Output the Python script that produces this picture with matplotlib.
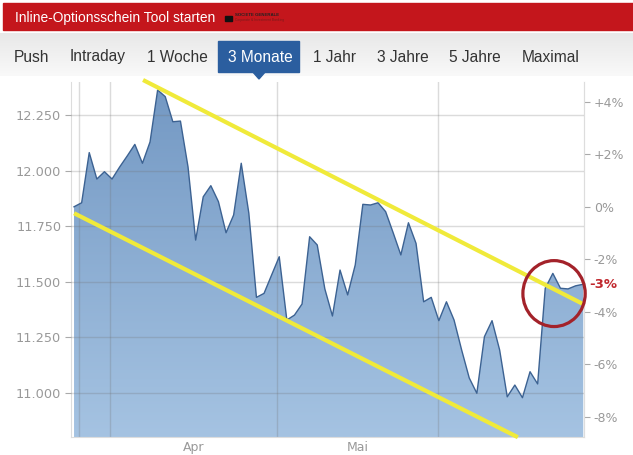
import numpy as np
import matplotlib.pyplot as plt
from matplotlib.patches import Rectangle, Polygon, Ellipse
from matplotlib.colors import LinearSegmentedColormap

# ------data------
dax = [11838, 11856, 12082, 11963, 11996, 11963, 12017, 12067, 12119, 12034,
       12130, 12364, 12334, 12221, 12224, 12017, 11688, 11883, 11933, 11861,
       11721, 11801, 12034, 11809, 11430, 11448, 11531, 11613, 11328, 11350,
       11400, 11703, 11666, 11468, 11346, 11553, 11441, 11576, 11849, 11846,
       11856, 11816, 11720, 11621, 11766, 11673, 11410, 11430, 11325, 11410,
       11328, 11193, 11067, 10998, 11253, 11325, 11193, 10982, 11035, 10978,
       11095, 11040, 11471, 11538, 11471, 11468, 11482, 11489]
tabs = ["Push", "Intraday", "1 Woche", "3 Monate", "1 Jahr", "3 Jahre", "5 Jahre", "Maximal"]
active_tab = "3 Monate"
left_ticks = [11000, 11250, 11500, 11750, 12000, 12250]
pct_ticks = [4, 2, 0, -2, -4, -6, -8]
month_labels = ["Apr", "Mai"]
grid_x = [0.66, 4.74, 26.7, 47.9]          # week/month boundaries (index units)
upper_trend = ([9.08, 66.97], [12409, 11400])
lower_trend = ([0, 58.4], [11809, 10800])
header_text = "Inline-Optionsschein Tool starten"

W, H = 633, 455
fig = plt.figure(figsize=(W / 100, H / 100), dpi=100)
fig.patch.set_facecolor("white")

def fx(px): return px / W
def fy(py): return 1 - py / H

# ------header & tabs------
fig.patches.append(Rectangle((fx(3), fy(30)), fx(633) - fx(3), fy(3) - fy(30),
                             transform=fig.transFigure, color="#c4161c", zorder=0))
fig.text(fx(15), fy(18), header_text, color="white", fontsize=9.9,
         family="Liberation Sans", va="center")
fig.patches.append(Rectangle((fx(225), fy(21)), fx(7), 5 / H,
                             transform=fig.transFigure, color="#111111"))
fig.text(fx(235), fy(15), "SOCIETE GENERALE", fontsize=3.2, color="#222222",
         family="Liberation Sans", weight="bold", va="center")
fig.text(fx(235), fy(20), "Corporate & Investment Banking", fontsize=2.4,
         color="#7a1a1a", family="Liberation Sans", va="center")

bar = np.linspace(0, 1, 64).reshape(-1, 1)
bax = fig.add_axes([0, fy(76), 1, fy(33) - fy(76)])
bax.imshow(bar, cmap=LinearSegmentedColormap.from_list("bar", ["#f9f9f9", "#e8e8e8"]),
           aspect="auto", origin="lower", extent=[0, 1, 0, 1])
bax.set_axis_off()

tab_x = [14, 70, 147, 228, 313, 377, 449, 522]
for name, px in zip(tabs, tab_x):
    if name == active_tab:
        fig.patches.append(Rectangle((fx(218), fy(72)), fx(299) - fx(218), fy(41) - fy(72),
                                     transform=fig.transFigure, color="#2b5e9f", zorder=2))
        fig.patches.append(Polygon([(fx(252), fy(71)), (fx(266), fy(71)), (fx(259), fy(79))],
                                   closed=True, transform=fig.transFigure, color="#2b5e9f", zorder=2))
        col = "white"
    else:
        col = "#333333"
    fig.text(fx(px), fy(57), name, color=col, fontsize=11.2, family="Liberation Sans",
             va="center", zorder=3)

# ------chart------
ax = fig.add_axes([fx(71), fy(437), fx(584) - fx(71), fy(82) - fy(437)])
x = np.arange(len(dax))
xlim = (-0.4, 67.1)
ylim = (10801, 12400)

area = ax.fill_between(x, dax, ylim[0] - 200, color="none", lw=0)
grad = np.linspace(0, 1, 256).reshape(-1, 1)
cmap = LinearSegmentedColormap.from_list("area", ["#a5c3e2", "#7398c3"])
im = ax.imshow(grad, cmap=cmap, aspect="auto", origin="lower",
               extent=[xlim[0], xlim[1], ylim[0], ylim[1]], zorder=1)
im.set_clip_path(area.get_paths()[0], transform=ax.transData)
ax.plot(x, dax, color="#3c6292", lw=1.0, zorder=3)

ax.set_xlim(*xlim)
ax.set_ylim(*ylim)
ax.set_axisbelow(False)
ax.grid(axis="y", color="#707070", alpha=0.25, lw=1)
for gx in grid_x:
    ax.axvline(gx, color="#707070", alpha=0.25, lw=1, zorder=2.5)

for side in ["left", "bottom", "right"]:
    ax.spines[side].set_color("#dddddd")
ax.spines["top"].set_visible(False)

ax.set_yticks(left_ticks, [f"{v:,}".replace(",", ".") for v in left_ticks])
ax.tick_params(axis="y", length=4, color="#aaaaaa", labelcolor="#999999",
               labelsize=9.3, pad=3)
centers = [(grid_x[1] + grid_x[2]) / 2, (grid_x[2] + grid_x[3]) / 2]
ax.set_xticks(centers, month_labels)
ax.tick_params(axis="x", length=0, labelcolor="#999999", labelsize=9, pad=3)

base = dax[0]
sec = ax.secondary_yaxis("right", functions=(lambda p: (p / base - 1) * 100,
                                             lambda q: base * (1 + q / 100)))
sec.set_yticks(pct_ticks, [f"{p:+d}%" if p else "0%" for p in pct_ticks])
sec.tick_params(length=4, color="#aaaaaa", labelcolor="#999999", labelsize=9, pad=3)
sec.spines["right"].set_color("#dddddd")

now_pct = (dax[-1] / base - 1) * 100
ax.annotate(f"{round(now_pct):d}%", xy=(1, dax[-1]), xycoords=("axes fraction", "data"),
            xytext=(4, 0), textcoords="offset points", color="#c0272d",
            fontweight="bold", fontsize=9.5, va="center", annotation_clip=False)

# trend lines and marker circle
for tx, ty in [upper_trend, lower_trend]:
    ax.plot(tx, ty, color="#f0ea3a", lw=3, clip_on=False, solid_capstyle="butt", zorder=5)
ax.add_patch(Ellipse((63.16, 11447), 8.2, 297, fill=False, ec="#a3222a", lw=2.3,
                     clip_on=False, zorder=6))

fig.savefig("out.png", dpi=100)
